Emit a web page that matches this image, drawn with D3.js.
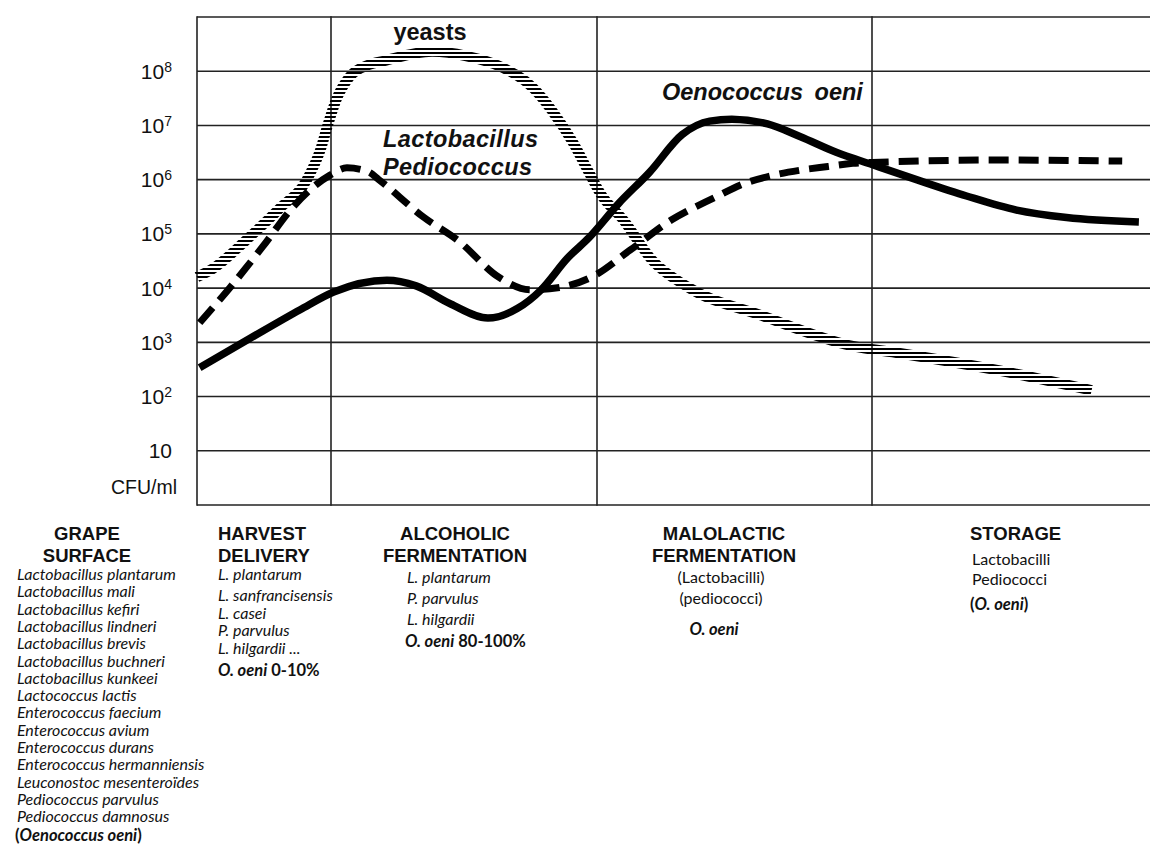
<!DOCTYPE html>
<html><head><meta charset="utf-8">
<script src="https://cdn.jsdelivr.net/npm/d3@7"></script>
<style>html,body{margin:0;padding:0;background:#fff;} svg{display:block}</style>
</head><body>
<svg id="chart" width="1150" height="845"></svg>
<script>
// ---------------- data ----------------
// x: position in the winemaking sequence, in stage units
// (0-1 harvest/delivery, 1-2 alcoholic fermentation, 2-3 malolactic fermentation, 3-4 storage)
const stageEdges = [0, 1, 2, 3, 4];
const yTicks = [1e8, 1e7, 1e6, 1e5, 1e4, 1e3, 1e2, 10];
const yUnit = "CFU/ml";

const yeastsT   = [0.00, 0.12, 0.37, 0.62, 0.82, 0.92, 0.98, 1.02, 1.07, 1.14, 1.20, 1.38, 1.51, 1.64, 1.76, 1.83, 1.91, 1.97, 2.01, 2.10, 2.20, 2.33, 2.60, 2.93, 3.10, 3.46, 3.79];
const yeastsCFU = [1.6e4, 2.3e4, 7.8e4, 3.0e5, 1.0e6, 3.5e6, 1.1e7, 3.0e7, 7.9e7, 1.3e8, 1.55e8, 2.3e8, 1.9e8, 1.2e8, 4.9e7, 1.9e7, 4.8e6, 1.35e6, 5.8e5, 1.7e5, 3.3e4, 1.05e4, 3.1e3, 850, 630, 300, 130];

const lactoPedioT   = [0.02, 0.25, 0.49, 0.72, 0.87, 0.99, 1.06, 1.14, 1.18, 1.35, 1.48, 1.63, 1.75, 1.87, 1.99, 2.12, 2.27, 2.44, 2.52, 2.64, 2.74, 2.84, 2.93, 3.03, 3.46, 3.90];
const lactoPedioCFU = [2.3e3, 1.05e4, 5.8e4, 3.2e5, 7.4e5, 1.2e6, 1.65e6, 1.4e6, 1.0e6, 2.0e5, 7.4e4, 1.6e4, 9.3e3, 1.05e4, 1.7e4, 5.0e4, 1.8e5, 5.0e5, 7.9e5, 1.2e6, 1.5e6, 1.75e6, 2.0e6, 2.1e6, 2.3e6, 2.2e6];

const oeniT   = [0.02, 0.40, 0.77, 1.01, 1.21, 1.32, 1.45, 1.59, 1.70, 1.79, 1.89, 1.97, 2.08, 2.19, 2.31, 2.41, 2.49, 2.62, 2.74, 2.87, 3.00, 3.16, 3.34, 3.52, 3.70, 3.96];
const oeniCFU = [340, 1.2e3, 4.0e3, 8.5e3, 1.4e4, 1.1e4, 5.1e3, 2.8e3, 4.2e3, 9.3e3, 3.6e4, 8.5e4, 3.7e5, 1.35e6, 6.8e6, 1.2e7, 1.3e7, 1.07e7, 6.2e6, 3.2e6, 1.9e6, 1.0e6, 5.0e5, 2.75e5, 2.0e5, 1.65e5];

const curveLabels = ["yeasts", "Lactobacillus", "Pediococcus", "Oenococcus oeni"];

const stageHeaders = [["GRAPE", "SURFACE"], ["HARVEST", "DELIVERY"], ["ALCOHOLIC", "FERMENTATION"], ["MALOLACTIC", "FERMENTATION"], ["STORAGE"]];

const grapeSpecies = ["Lactobacillus plantarum", "Lactobacillus mali", "Lactobacillus kefiri", "Lactobacillus lindneri",
  "Lactobacillus brevis", "Lactobacillus buchneri", "Lactobacillus kunkeei", "Lactococcus lactis",
  "Enterococcus faecium", "Enterococcus avium", "Enterococcus durans", "Enterococcus hermanniensis",
  "Leuconostoc mesenteroïdes", "Pediococcus parvulus", "Pediococcus damnosus"];
const harvestSpecies = ["L. plantarum", "L. sanfrancisensis", "L. casei", "P. parvulus", "L. hilgardii ..."];
const alcoholicSpecies = ["L. plantarum", "P. parvulus", "L. hilgardii"];
const malolacticSpecies = ["(Lactobacilli)", "(pediococci)"];
const storageSpecies = ["Lactobacilli", "Pediococci"];
// bold summary lines: [text, italic?] segments
const grapeOeni = [["(", false], ["Oenococcus oeni", true], [")", false]];
const harvestOeni = [["O. oeni", true], [" 0-10%", false]];
const alcoholicOeni = [["O. oeni", true], [" 80-100%", false]];
const malolacticOeni = [["O. oeni", true]];
const storageOeni = [["(", false], ["O. oeni", true], [")", false]];

// ---------------- drawing ----------------
const svg = d3.select("#chart");
const W = 1150;
const x = d3.scaleLinear().domain(stageEdges).range([197, 331, 597, 872, 1150]);
const y = d3.scaleLog().domain([1, 1e9]).range([505, 17]);

const defs = svg.append("defs");
const pat = defs.append("pattern").attr("id", "hatch").attr("patternUnits", "userSpaceOnUse")
  .attr("width", 8).attr("height", 4);
pat.append("rect").attr("width", 8).attr("height", 2).attr("fill", "#000");

const gridColor = "#222";
const grid = svg.append("g");
grid.selectAll("line.h").data(yTicks.concat([1e9, 1])).join("line")
  .attr("x1", x(0)).attr("x2", W)
  .attr("y1", d => y(d)).attr("y2", d => y(d))
  .attr("stroke", gridColor).attr("stroke-width", 1.6);
grid.selectAll("line.v").data(stageEdges.slice(0, 4)).join("line")
  .attr("x1", d => x(d)).attr("x2", d => x(d))
  .attr("y1", y(1e9) - 0.8).attr("y2", y(1) + 0.8)
  .attr("stroke", gridColor).attr("stroke-width", 1.6);

// y tick labels
const tl = svg.append("g").attr("font-family", "'Liberation Sans', Arial, sans-serif").attr("fill", "#111");
yTicks.forEach(v => {
  const e = Math.round(Math.log10(v));
  const t = tl.append("text").attr("x", 172).attr("y", y(v) + 7.5).attr("text-anchor", "end").attr("font-size", 21);
  t.append("tspan").text("10");
  if (e > 1) t.append("tspan").attr("font-size", 14).attr("dy", -7).text(String(e));
});
tl.append("text").attr("x", 177).attr("y", y(1) - 11).attr("text-anchor", "end").attr("font-size", 19.5).text(yUnit);

// curves
const line = d3.line().x(d => x(d[0])).y(d => y(d[1])).curve(d3.curveMonotoneX);
const zip = (a, b) => a.map((v, i) => [v, b[i]]);
const plot = svg.append("g");
plot.append("path").datum(zip(yeastsT, yeastsCFU)).attr("d", line)
  .attr("fill", "none").attr("stroke", "url(#hatch)").attr("stroke-width", 10.5);
plot.append("path").datum(zip(lactoPedioT, lactoPedioCFU)).attr("d", line)
  .attr("fill", "none").attr("stroke", "#000").attr("stroke-width", 7).attr("stroke-dasharray", "20,10");
plot.append("path").datum(zip(oeniT, oeniCFU)).attr("d", line)
  .attr("fill", "none").attr("stroke", "#000").attr("stroke-width", 7.5).attr("stroke-linejoin", "round");

// curve labels
const lab = svg.append("g").attr("font-family", "'Liberation Sans', Arial, sans-serif").attr("font-weight", "bold").attr("font-size", 23.5).attr("fill", "#111");
lab.append("text").attr("x", 430).attr("y", 40).attr("text-anchor", "middle").text(curveLabels[0]);
lab.append("text").attr("x", 383).attr("y", 147).attr("font-style", "italic").attr("letter-spacing", 0.4).text(curveLabels[1]);
lab.append("text").attr("x", 383).attr("y", 175).attr("font-style", "italic").attr("letter-spacing", 0.4).text(curveLabels[2]);
lab.append("text").attr("x", 662).attr("y", 100).attr("font-style", "italic").attr("word-spacing", 5).text(curveLabels[3]);

// stage headers
const hd = svg.append("g").attr("font-family", "'Liberation Sans', Arial, sans-serif").attr("font-weight", "bold").attr("font-size", 18.5).attr("fill", "#111");
const headerPos = [[87, "middle"], [218, "start"], [455, "middle"], [724, "middle"], [970, "start"]];
stageHeaders.forEach((lines, i) => {
  lines.forEach((s, j) => {
    hd.append("text").attr("x", headerPos[i][0]).attr("y", 540 + j * 22).attr("text-anchor", headerPos[i][1]).text(s);
  });
});

// species lists
const sp = svg.append("g").attr("font-family", "Lato, 'Open Sans', sans-serif").attr("font-size", 16).attr("fill", "#111");
function list(items, xPos, ys, anchor, italic) {
  items.forEach((s, i) => {
    sp.append("text").attr("x", xPos).attr("y", ys[i]).attr("text-anchor", anchor)
      .attr("font-style", italic ? "italic" : "normal").text(s);
  });
}
function boldLine(segs, xPos, yPos, anchor) {
  const t = sp.append("text").attr("x", xPos).attr("y", yPos).attr("text-anchor", anchor).attr("font-weight", "bold").attr("font-size", 16.5);
  segs.forEach(s => t.append("tspan").attr("font-style", s[1] ? "italic" : "normal").text(s[0]));
}
list(grapeSpecies, 17, grapeSpecies.map((d, i) => 580 + i * 17.3), "start", true);
boldLine(grapeOeni, 15, 841, "start");
list(harvestSpecies, 218, [580, 601, 618.5, 636, 653.5], "start", true);
boldLine(harvestOeni, 218, 676, "start");
list(alcoholicSpecies, 407, [583, 604, 625], "start", true);
boldLine(alcoholicOeni, 405, 647, "start");
list(malolacticSpecies, 721, [583, 604], "middle", false);
boldLine(malolacticOeni, 714, 635, "middle");
list(storageSpecies, 972, [565, 585], "start", false);
boldLine(storageOeni, 970, 610, "start");
</script>
</body></html>
